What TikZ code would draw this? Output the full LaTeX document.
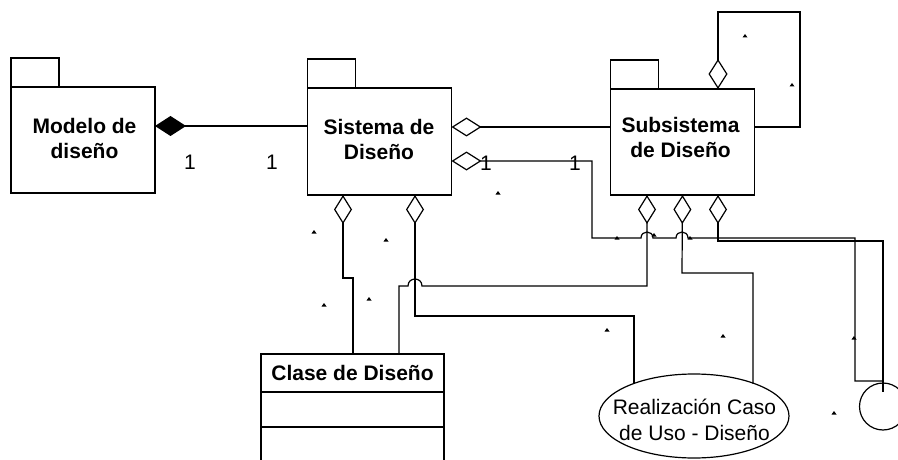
\documentclass[tikz,border=0pt]{standalone}
\usepackage{fontspec}
\setmainfont{Liberation Sans}
\usetikzlibrary{shapes.geometric,arrows.meta,calc}
\begin{document}
\begin{tikzpicture}[x=1pt,y=-1pt,
  box/.style={draw, line width=1.8pt, inner sep=0pt, outer sep=0pt},
  pkgbox/.style={box, minimum width=144pt, minimum height=106pt},
  tabbox/.style={box, minimum width=48pt, minimum height=29pt, anchor=south west},
  conn/.style={line width=1.2pt},
  lbl/.style={font=\fontsize{21}{25}\selectfont\bfseries, align=center, inner sep=0pt},
  txt/.style={font=\fontsize{21}{26}\selectfont, align=center, inner sep=0pt},
  mult/.style={font=\fontsize{21}{25}\selectfont, inner sep=0pt},
  fdia/.tip={Diamond[length=31pt,width=20pt]},
  hdia/.tip={Diamond[open,length=30pt,width=19pt]},
  vdia/.tip={Diamond[open,length=29pt,width=18pt]}
]
\fill[white] (0,0) rectangle (898,460);
\useasboundingbox (0,0) rectangle (898,460);

% packages
\node[pkgbox] (modelo) at (83,140) {};
\node[tabbox] (modelotab) at (modelo.north west) {};
\node[lbl] (modelotxt) at (84.5,138) {Modelo de\\diseño};

\node[pkgbox, minimum height=107pt] (sis) at (379.5,141.5) {};
\node[tabbox] (sistab) at (sis.north west) {};
\node[lbl] (sistxt) at (379,139.4) {Sistema de\\Diseño};

\node[pkgbox] (sub) at (682.5,142) {};
\node[tabbox] (subtab) at (sub.north west) {};
\node[lbl] (subtxt) at (680.5,137) {Subsistema\\de Diseño};

% class
\node[box, minimum width=183pt, minimum height=38pt, lbl] (clase) at (352.5,373) {Clase de Diseño};
\node[box, minimum width=183pt, minimum height=35pt, anchor=north] (clasea) at (clase.south) {};
\node[box, minimum width=183pt, minimum height=40pt, anchor=north] (claseb) at (clasea.south) {};

% use case realization
\node[draw, ellipse, line width=1.2pt, minimum width=190pt, minimum height=84pt, inner sep=0pt, outer sep=0pt] (real) at (694,416) {};
\node[txt] (realtxt) at (694.5,420.3) {Realización Caso\\de Uso - Diseño};

% interface
\node[draw, circle, line width=1.2pt, minimum size=47pt, inner sep=0pt, outer sep=0pt] (iface) at (883,406.5) {};

% multiplicities
\node[mult] (m1) at (190,162.5) {1};
\node[mult] (m2) at (272,162.5) {1};
\node[mult] (m3) at (486,163.5) {1};
\node[mult] (m4) at (575,163.5) {1};

% connectors
\draw[conn, fdia-] ([yshift=14pt]modelo.east) -- ([yshift=14pt]modelo.east -| sis.west);
\draw[conn, hdia-] ([yshift=14.5pt]sis.east) -- ([yshift=14.5pt]sis.east -| sub.west);
\draw[conn, hdia-] ([yshift=-19.5pt]sis.east) -- (592,161) -- (592,238) -- (641,238)
   .. controls (641,230) and (653,230) .. (653,238) -- (676,238)
   .. controls (676,230) and (688,230) .. (688,238) -- (855,238) -- (855,381)
   -- ([yshift=2pt]iface.north);
\draw[conn, vdia-] ([xshift=107.5pt]sub.south west) -- (718,241) -- (883,241)
   -- ([yshift=-9pt]iface.north);
\draw[conn, hdia-] ([xshift=107.5pt]sub.north west) -- (718,12) -- (800,12) -- (800,127)
   -- ([yshift=15pt]sub.east);
\draw[conn, vdia-] ([xshift=36.5pt]sub.south west) -- (647,286) -- (422,286)
   .. controls (422,276.7) and (408,276.7) .. (408,286) -- (399,286)
   -- ([xshift=138pt]clase.north west);
\draw[conn, vdia-] (sub.south) -- (682,273) -- (753,273) |- (real.29.2);
\draw[conn, vdia-] ([xshift=107.5pt]sis.south west) -- (415,316) -- (634,316) |- (real.151.5);
\draw[conn, vdia-] ([xshift=35.5pt]sis.south west) -- (343,278) -- (353,278)
   -- ([xshift=92pt]clase.north west);

% small marks
\foreach \mx/\my in {745/36, 792/85, 617/238, 654/235, 690/238, 498/193, 314/232,
   386/240, 324/305, 369/299, 607/330, 723/336, 854/338, 834/413}
  \fill (\mx,\my) ++(-2.5,1.5) -- ++(5,0) -- ++(-2.5,-3.5) -- cycle;
\end{tikzpicture}
\end{document}
